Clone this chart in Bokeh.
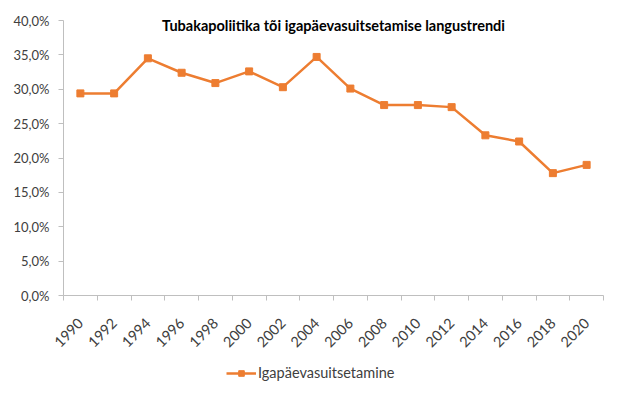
from bokeh.plotting import figure
from bokeh.models import Range1d, FixedTicker, CustomJSTickFormatter, Label, Legend, LegendItem
from bokeh.embed import file_html
from bokeh.resources import INLINE
import math

# ---- data ----
years = [1990, 1992, 1994, 1996, 1998, 2000, 2002, 2004, 2006, 2008, 2010, 2012, 2014, 2016, 2018, 2020]
year_labels = [str(y) for y in years]
daily_smoking = [29.4, 29.4, 34.5, 32.4, 30.9, 32.6, 30.3, 34.7, 30.1, 27.7, 27.7, 27.4, 23.3, 22.4, 17.8, 19.0]
y_ticks = [0, 5, 10, 15, 20, 25, 30, 35, 40]
series_name = "Igapäevasuitsetamine"
title_text = "Tubakapoliitika tõi igapäevasuitsetamise langustrendi"

FONT = "Lato"
ORANGE = "#ED7D31"
AXIS_GRAY = "#BFBFBF"
TEXT = "#404040"

# layout (pixels): the frame fills the whole figure, axes are pinned inside it
W, H = 612, 390
X_LEFT_PX, X_RIGHT_PX = 63, 603     # pixel columns of the plot area edges
Y_TOP_PX, Y_ZERO_PX = 20, 295       # pixel rows of the 40 % and 0 % lines

step = years[1] - years[0]
boundaries = [y - step / 2 for y in years] + [years[-1] + step / 2]
x_per_px = (boundaries[-1] - boundaries[0]) / (X_RIGHT_PX - X_LEFT_PX)
y_per_px = (y_ticks[-1] - y_ticks[0]) / (Y_ZERO_PX - Y_TOP_PX)
x_lo = boundaries[0] - X_LEFT_PX * x_per_px
x_hi = boundaries[-1] + (W - X_RIGHT_PX) * x_per_px
y_lo = y_ticks[0] - (H - Y_ZERO_PX) * y_per_px
y_hi = y_ticks[-1] + Y_TOP_PX * y_per_px

p = figure(width=W, height=H, output_backend="svg", toolbar_location=None,
           x_range=Range1d(x_lo, x_hi), y_range=Range1d(y_lo, y_hi),
           min_border_left=0, min_border_right=0, min_border_top=0, min_border_bottom=0)
p.outline_line_color = None
p.xgrid.visible = False
p.ygrid.visible = False
p.background_fill_color = "white"
p.border_fill_color = "white"

r_line = p.line(years, daily_smoking, line_color=ORANGE, line_width=2.5)
r_pts = p.scatter(years, daily_smoking, marker="square", size=7, fill_color=ORANGE, line_color=ORANGE)

# x axis, pinned at 0 %
xa = p.xaxis[0]
xa.fixed_location = y_ticks[0]
xa.bounds = (boundaries[0], boundaries[-1])
xa.ticker = FixedTicker(ticks=years, minor_ticks=boundaries)
xa.major_label_overrides = {y: l for y, l in zip(years, year_labels)}
xa.major_tick_out = 0
xa.major_tick_in = 0
xa.minor_tick_out = 5
xa.minor_tick_in = 0
xa.minor_tick_line_color = AXIS_GRAY
xa.axis_line_color = AXIS_GRAY
xa.major_label_orientation = math.pi / 4
xa.major_label_standoff = 20
xa.major_label_text_font = FONT
xa.major_label_text_font_size = "14.5px"
xa.major_label_text_color = TEXT

# y axis, pinned at the left edge of the plot area
ya = p.yaxis[0]
ya.fixed_location = boundaries[0]
ya.bounds = (y_ticks[0], y_ticks[-1])
ya.ticker = FixedTicker(ticks=y_ticks, minor_ticks=[])
ya.formatter = CustomJSTickFormatter(code="return tick.toFixed(1).replace('.', ',') + '%';")
ya.major_tick_out = 5
ya.major_tick_in = 0
ya.major_tick_line_color = AXIS_GRAY
ya.axis_line_color = AXIS_GRAY
ya.major_label_standoff = 9
ya.major_label_text_font = FONT
ya.major_label_text_font_size = "13px"
ya.major_label_text_color = TEXT

# title (inside the chart area)
title = Label(x=333, y=H - 25, x_units="screen", y_units="screen", text=title_text,
              text_font=FONT, text_font_size="14.5px", text_font_style="bold",
              text_align="center", text_baseline="middle", text_color="black")
p.add_layout(title)

legend = Legend(items=[LegendItem(label=series_name, renderers=[r_line, r_pts])],
                location=(226, 9), orientation="horizontal", margin=0,
                label_text_font=FONT, label_text_font_size="14.5px", label_text_color=TEXT,
                glyph_width=30, glyph_height=14, border_line_color=None,
                background_fill_alpha=0, padding=4, spacing=0, label_standoff=2)
p.add_layout(legend, "center")

open("out.html", "w").write(file_html(p, INLINE))
